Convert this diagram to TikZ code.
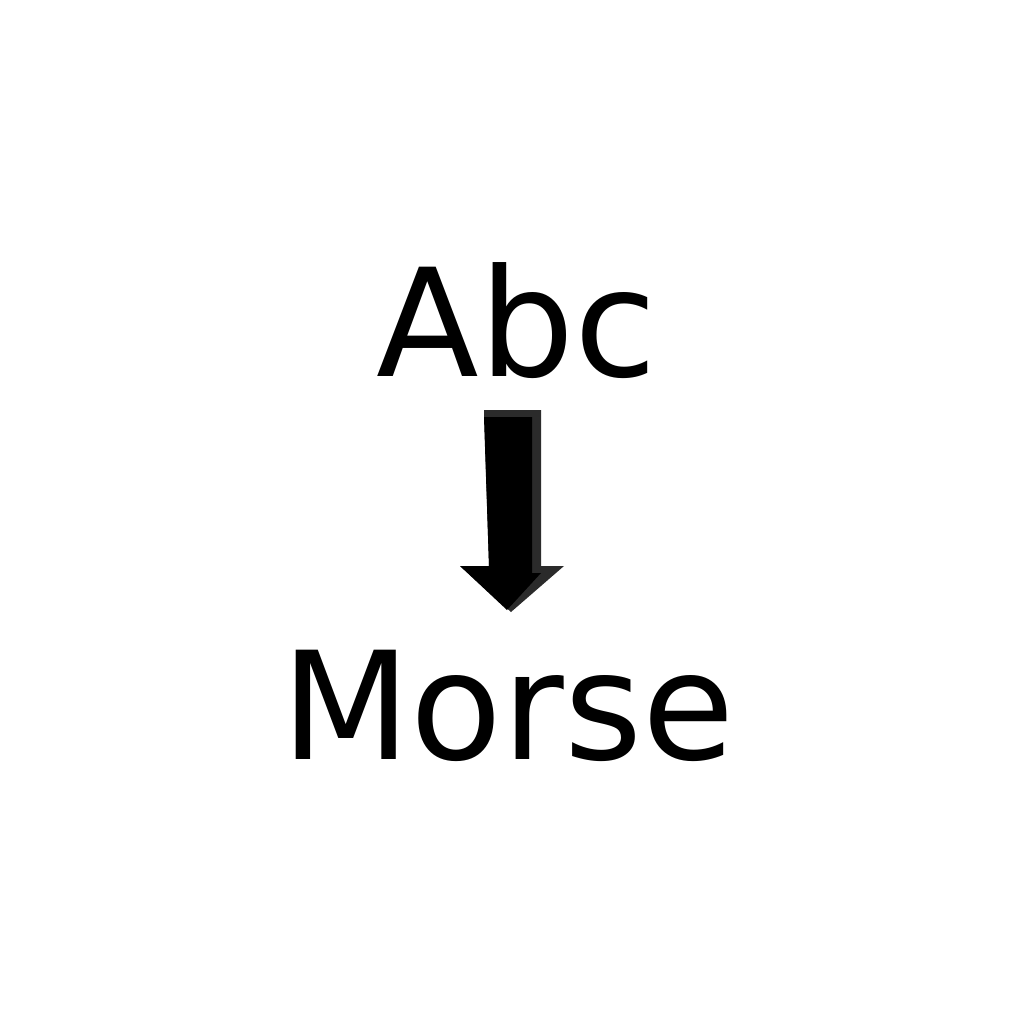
\documentclass[tikz,border=0pt]{standalone}
\usepackage{fontspec}
\setmainfont{DejaVu Sans}
\tikzstyle{word} = [inner sep=0pt, anchor=base, font=\fontsize{75}{90}\selectfont]
\tikzstyle{shade} = [fill=black!83, draw=none]
\tikzstyle{arrowbody} = [fill=black, draw=none]

\begin{document}
\begin{tikzpicture}[x=0.5pt, y=-0.5pt]
        \useasboundingbox (0,0) rectangle (1024,1024);
        % Words
        \node (abc) [word] at (517,376) {Abc};
        \node (morse) [word] at (508,759) {Morse};

        % Arrow (shadow, then body)
        \fill[shade] (484,410) -- (541,410) -- (541,566) -- (564,566) -- (511,612) -- (460,566) -- (489,566) -- cycle;
        \fill[arrowbody] (484,417) -- (532,417) -- (532,573) -- (541,573) -- (507,610) -- (460,566) -- (489,566) -- cycle;
    \end{tikzpicture}
\end{document}
